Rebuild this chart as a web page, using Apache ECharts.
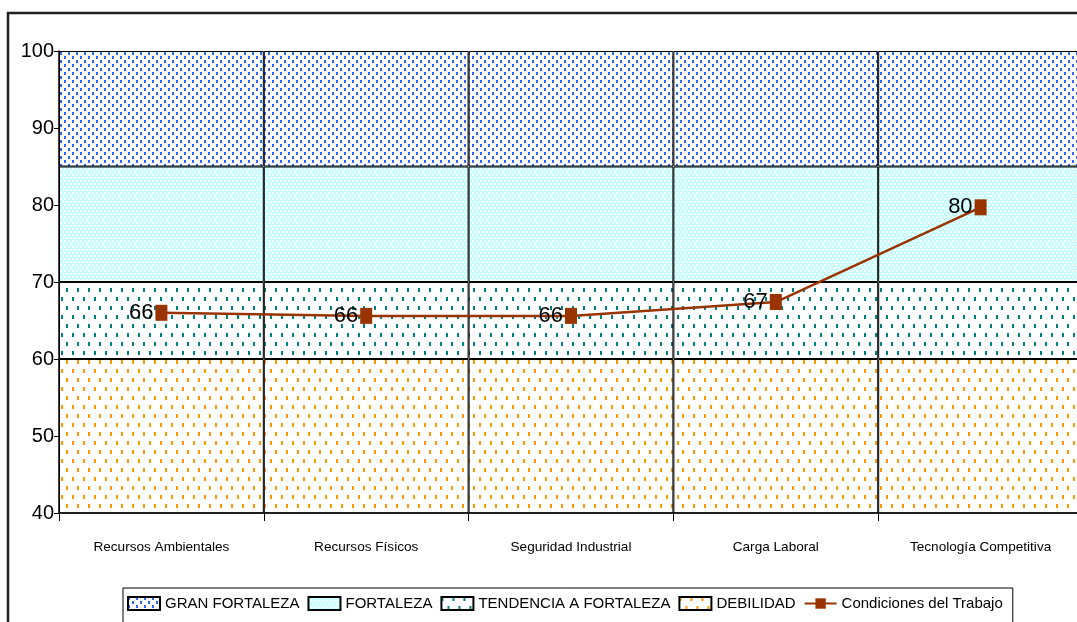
<!DOCTYPE html>
<html>
<head>
<meta charset="utf-8">
<script src="https://cdn.jsdelivr.net/npm/echarts@6/dist/echarts.min.js"></script>
<style>
html,body{margin:0;padding:0;background:#fff;overflow:hidden;width:1077px;height:622px;}
#chart{width:1083px;height:622px;}
</style>
</head>
<body>
<div id="chart"></div>
<script>
// ---- data ----
var categories = ['Recursos Ambientales', 'Recursos Físicos', 'Seguridad Industrial', 'Carga Laboral', 'Tecnología Competitiva'];
var condiciones = [66.0, 65.6, 65.6, 67.4, 79.7];
var bandDebilidad = [60, 60, 60, 60, 60];      // 0 .. 60
var bandTendencia = [10, 10, 10, 10, 10];      // 60 .. 70
var bandFortaleza = [15, 15, 15, 15, 15];      // 70 .. 85
var bandGranFortaleza = [15, 15, 15, 15, 15];  // 85 .. 100
var yTicks = [40, 50, 60, 70, 80, 90, 100];

var FONT = '"Liberation Sans Narrow", "Arial Narrow", "Liberation Sans", Arial, sans-serif';

function makePattern(bg, fg, w, h, dots, dw, dh) {
  var c = document.createElement('canvas');
  c.width = w; c.height = h;
  var ctx = c.getContext('2d');
  ctx.fillStyle = bg; ctx.fillRect(0, 0, w, h);
  ctx.fillStyle = fg;
  dots.forEach(function (d) { ctx.fillRect(d[0], d[1], dw, dh); });
  return { image: c, repeat: 'repeat' };
}

var patGran = makePattern('#ffffff', '#3366ff', 8, 8, [[0, 0], [4, 4]], 2, 3);
var patFort = makePattern('#c2ffff', '#ffffff', 4, 6, [[0, 0], [2, 3]], 2, 2);
var patTend = makePattern('#ffffff', '#008080', 11, 18, [[0, 0], [6, 9]], 2, 4);
var patDeb = makePattern('#ffffff', '#ff9900', 11, 18, [[0, 0], [6, 9]], 2, 4);

var chart = echarts.init(document.getElementById('chart'), null, { renderer: 'canvas' });

function band(name, data, pat) {
  return {
    name: name, type: 'bar', stack: 'bands', data: data,
    barWidth: '100%', barCategoryGap: 0, clip: true, silent: true,
    itemStyle: { color: pat, borderColor: '#000', borderWidth: 1 },
    emphasis: { disabled: true }
  };
}

chart.setOption({
  animation: false,
  backgroundColor: '#fff',
  graphic: [{
    type: 'rect', shape: { x: 8, y: 13, width: 1200, height: 800 },
    style: { fill: 'none', stroke: '#222', lineWidth: 2.5 }, z: 100, silent: true
  }],
  grid: { left: 59, top: 51, right: 0, bottom: 109, containLabel: false },
  legend: {
    left: 123, top: 588, orient: 'horizontal', width: 940,
    padding: [8, 10, 12, 4], itemGap: 8, itemWidth: 32, itemHeight: 13,
    borderColor: '#000', borderWidth: 1, backgroundColor: '#fff',
    textStyle: { fontFamily: FONT, fontSize: 15, color: '#000' },
    data: [
      { name: 'GRAN FORTALEZA', icon: 'rect' },
      { name: 'FORTALEZA', icon: 'rect' },
      { name: 'TENDENCIA A FORTALEZA', icon: 'rect' },
      { name: 'DEBILIDAD', icon: 'rect' },
      { name: 'Condiciones del Trabajo' }
    ]
  },
  xAxis: {
    type: 'category', data: categories, boundaryGap: true,
    axisLine: { show: true, lineStyle: { color: '#000', width: 1.5 } },
    axisTick: { show: true, length: 8, lineStyle: { color: '#000' } },
    axisLabel: { fontFamily: FONT, fontSize: 13.6, color: '#000', margin: 27 },
    splitLine: { show: false },
    z: 10
  },
  yAxis: {
    type: 'value', min: 40, max: 100, interval: 10,
    axisLine: { show: true, lineStyle: { color: '#000', width: 1.5 } },
    axisTick: { show: true, inside: false, length: 5, lineStyle: { color: '#000' } },
    axisLabel: {
      fontFamily: FONT, fontSize: 20, color: '#000', margin: 5,
      formatter: function (v) { return yTicks.indexOf(v) >= 0 ? String(v) : ''; }
    },
    splitLine: { show: false },
    z: 10
  },
  series: [
    band('DEBILIDAD', bandDebilidad, patDeb),
    band('TENDENCIA A FORTALEZA', bandTendencia, patTend),
    band('FORTALEZA', bandFortaleza, patFort),
    band('GRAN FORTALEZA', bandGranFortaleza, patGran),
    {
      name: 'Condiciones del Trabajo', type: 'line', data: condiciones, z: 20,
      symbol: 'rect', symbolSize: [12, 16],
      lineStyle: { color: '#993300', width: 2.5 },
      itemStyle: { color: '#993300' },
      label: {
        show: true, position: 'left', distance: 2,
        fontFamily: FONT, fontSize: 22, color: '#000',
        formatter: function (p) { return Math.round(p.value); }
      }
    }
  ]
});
</script>
</body>
</html>
